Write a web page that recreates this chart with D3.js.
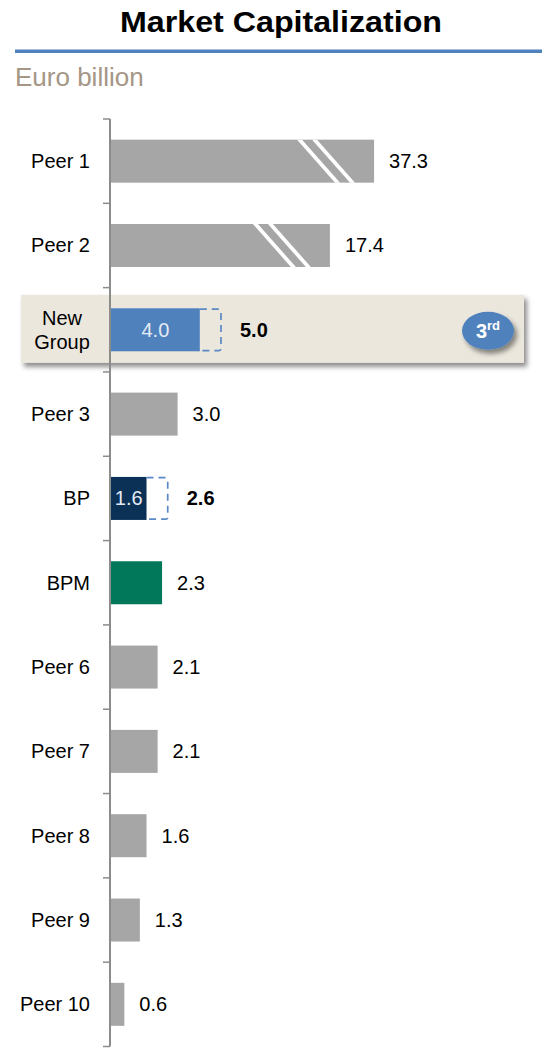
<!DOCTYPE html>
<html>
<head>
<meta charset="utf-8">
<script src="https://cdn.jsdelivr.net/npm/d3@7"></script>
<style>
  body { margin: 0; background: #fff; }
  svg text { font-family: "Liberation Sans", Arial, sans-serif; }
</style>
</head>
<body>
<div id="chart"></div>
<script>
// data
const categories = ["Peer 1", "Peer 2", "New Group", "Peer 3", "BP", "BPM", "Peer 6", "Peer 7", "Peer 8", "Peer 9", "Peer 10"];
const values = [37.3, 17.4, 5.0, 3.0, 2.6, 2.3, 2.1, 2.1, 1.6, 1.3, 0.6];
// stand-alone part of the combined entities (rest is drawn dashed)
const baseValues = [37.3, 17.4, 4.0, 3.0, 1.6, 2.3, 2.1, 2.1, 1.6, 1.3, 0.6];
// bars that go past the axis break are cut at this value
const cutValues = [11.85, 9.86, null, null, null, null, null, null, null, null, null];
const rankText = ["3", "rd"];

const barColors = ["#a6a6a6", "#a6a6a6", "#4f81bd", "#a6a6a6", "#0b3157", "#02785a", "#a6a6a6", "#a6a6a6", "#a6a6a6", "#a6a6a6", "#a6a6a6"];

const width = 542, height = 1055;

const svg = d3.select("#chart").append("svg")
    .attr("width", width)
    .attr("height", height);

const defs = svg.append("defs");
defs.append("filter").attr("id", "shadow")
    .attr("x", "-10%").attr("y", "-20%").attr("width", "130%").attr("height", "160%")
  .append("feDropShadow")
    .attr("dx", 3).attr("dy", 4).attr("stdDeviation", 2.5)
    .attr("flood-color", "#000").attr("flood-opacity", 0.45);

// title
svg.append("text")
    .attr("x", 281).attr("y", 32)
    .attr("text-anchor", "middle")
    .attr("font-size", 29)
    .attr("font-weight", "bold")
    .attr("textLength", 322)
    .attr("lengthAdjust", "spacingAndGlyphs")
    .text("Market Capitalization");

svg.append("rect")
    .attr("x", 15).attr("y", 49.5)
    .attr("width", width - 15).attr("height", 3.5)
    .attr("fill", "#4f81bd");

svg.append("text")
    .attr("x", 15).attr("y", 86)
    .attr("font-size", 26)
    .attr("fill", "#a59686")
    .text("Euro billion");

// scales
let y = d3.scaleBand()
    .domain(categories)
    .range([119, 1046.5])
    .paddingInner(0.49)
    .paddingOuter(0.245);

let x = d3.scaleLinear()
    .domain([0, 12])
    .range([111, 111 + 12 * 22.2]);

const rows = categories.map((c, i) => ({
    cat: c, value: values[i], base: baseValues[i], cut: cutValues[i], color: barColors[i]
}));

const bh = y.bandwidth();

// highlight band behind New Group
const hl = rows.find(d => d.base !== d.value && d.value >= 5);
const hlMid = y(hl.cat) + bh / 2;
svg.append("rect")
    .attr("x", 21).attr("y", hlMid - 35)
    .attr("width", 503).attr("height", 68)
    .attr("fill", "#ebe7dd")
    .attr("filter", "url(#shadow)");

// axis line + ticks at category boundaries
const [y0, y1] = y.range();
svg.append("line")
    .attr("x1", 110).attr("x2", 110)
    .attr("y1", y0).attr("y2", y1)
    .attr("stroke", "#8c8c8c").attr("stroke-width", 2);

svg.selectAll(".tick")
    .data(d3.range(categories.length + 1))
    .enter().append("line")
    .attr("class", "tick")
    .attr("x1", 103).attr("x2", 110)
    .attr("y1", d => y0 + d * y.step())
    .attr("y2", d => y0 + d * y.step())
    .attr("stroke", "#8c8c8c").attr("stroke-width", 1.5);

// bars
const bars = svg.selectAll(".bars")
    .data(rows)
    .enter().append("g")
    .attr("class", "bars");

bars.append("rect")
    .attr("x", x(0))
    .attr("y", d => y(d.cat))
    .attr("width", d => x(d.cut || d.base) - x(0))
    .attr("height", bh)
    .attr("fill", d => d.color);

// axis break stripes
bars.filter(d => d.cut).each(function(d) {
    const g = d3.select(this);
    const end = x(d.cut);
    const top = y(d.cat), bot = top + bh;
    [77, 62].forEach(off => {
        const xs = end - off;
        g.append("polygon")
            .attr("points", [[xs, top], [xs + 5, top], [xs + 43, bot], [xs + 38, bot]].join(" "))
            .attr("fill", "#fff");
    });
});

// dashed extension for the combined entities
bars.filter(d => d.value > d.base)
    .append("path")
    .attr("d", d => {
        const a = x(d.base), b = x(d.value) - 1, t = y(d.cat) + 0.75, u = y(d.cat) + bh - 0.75;
        return `M${a},${t} H${b - 2} Q${b},${t} ${b},${t + 2} V${u - 2} Q${b},${u} ${b - 2},${u} H${a}`;
    })
    .attr("fill", "none")
    .attr("stroke", "#5a89c6")
    .attr("stroke-width", 1.7)
    .attr("stroke-dasharray", "7,5");

// inner labels (stand-alone value)
bars.filter(d => d.value > d.base)
    .append("text")
    .attr("x", d => (x(0) + x(d.base)) / 2)
    .attr("y", d => y(d.cat) + bh / 2)
    .attr("dy", "0.35em")
    .attr("text-anchor", "middle")
    .attr("font-size", 20)
    .attr("fill", "#e4ebf4")
    .text(d => d.base.toFixed(1));

// value labels
bars.append("text")
    .attr("x", d => x(d.cut || d.value) + (d.value > d.base ? 18 : 15))
    .attr("y", d => y(d.cat) + bh / 2)
    .attr("dy", "0.35em")
    .attr("font-size", 20)
    .attr("font-weight", d => d.value > d.base ? "bold" : "normal")
    .attr("fill", "#000")
    .text(d => d.value.toFixed(1));

// category labels
bars.each(function(d) {
    const words = d.cat === "New Group" ? ["New", "Group"] : [d.cat];
    const cy = y(d.cat) + bh / 2;
    const t = d3.select(this).append("text")
        .attr("font-size", 20)
        .attr("text-anchor", words.length > 1 ? "middle" : "end");
    words.forEach((w, i) => {
        t.append("tspan")
            .attr("x", words.length > 1 ? 62 : 90)
            .attr("y", cy + (i - (words.length - 1) / 2) * 24)
            .attr("dy", "0.35em")
            .text(w);
    });
});

// rank badge
svg.append("ellipse")
    .attr("cx", 488).attr("cy", hlMid + 1)
    .attr("rx", 26).attr("ry", 19)
    .attr("fill", "#4f81bd")
    .attr("filter", "url(#shadow)");
const rank = svg.append("text")
    .attr("x", 488).attr("y", hlMid + 1)
    .attr("dy", "0.35em")
    .attr("text-anchor", "middle")
    .attr("fill", "#fff")
    .attr("font-weight", "bold")
    .attr("font-size", 20);
rank.append("tspan").text(rankText[0]);
rank.append("tspan").attr("font-size", 13).attr("dy", "-0.6em").text(rankText[1]);
</script>
</body>
</html>
